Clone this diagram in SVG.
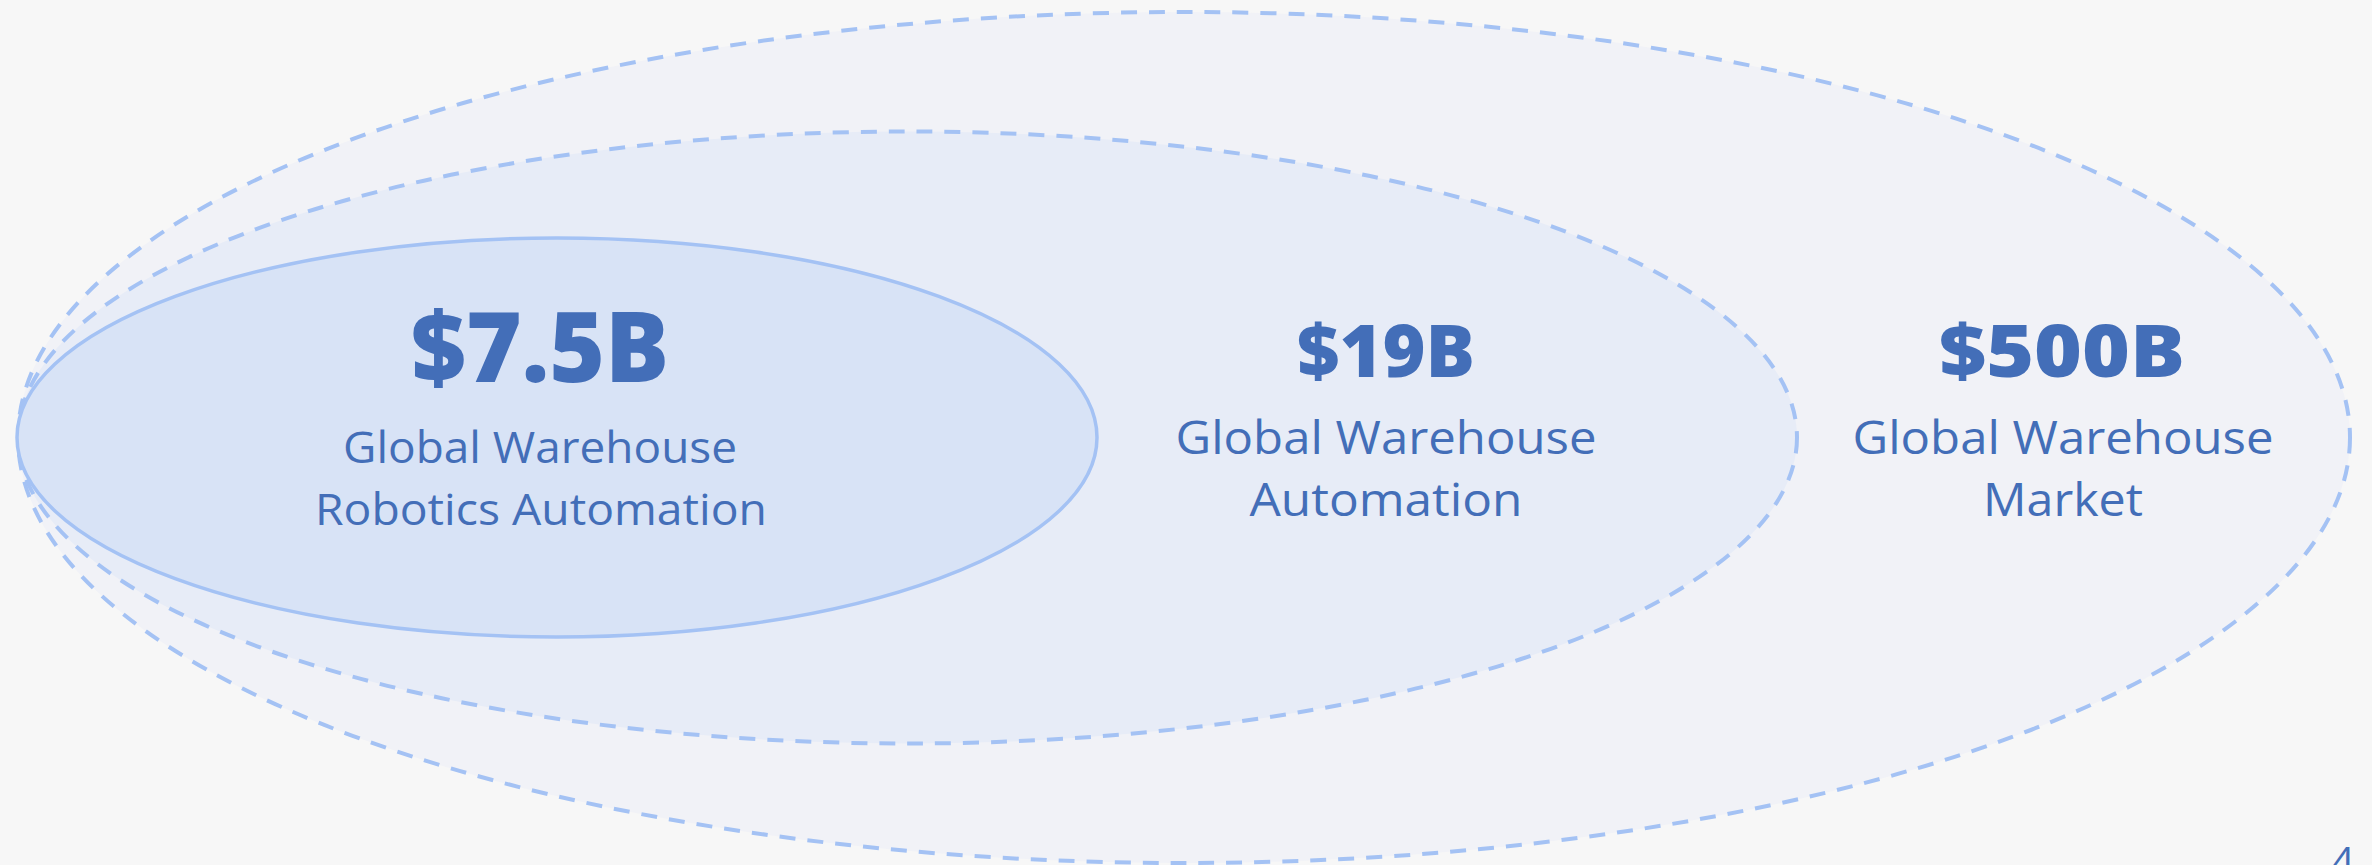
<svg xmlns="http://www.w3.org/2000/svg" width="2372" height="865" viewBox="0 0 2372 865">
<style>
.bg{fill:#f7f7f7}
.ring{stroke:#a4c2f4;stroke-width:3.5}
.dash{stroke-width:4;stroke-dasharray:16 12}
.big{font-family:"Open Sans","Liberation Sans",sans-serif;font-weight:800;fill:#436eb8;text-anchor:middle}
.sub{font-family:"Open Sans","Liberation Sans",sans-serif;font-weight:400;fill:#436eb8;text-anchor:middle}
</style>
<rect class="bg" x="0" y="0" width="2372" height="865"/>
<g id="market">
<ellipse class="ring dash" cx="1184" cy="437.5" rx="1166" ry="425.5" fill="#f1f2f7"/>
<text class="big" x="2062" y="377" font-size="73" textLength="246" lengthAdjust="spacingAndGlyphs">$500B</text>
<text class="sub" x="2063" y="454" font-size="45" textLength="421" lengthAdjust="spacingAndGlyphs">Global Warehouse</text>
<text class="sub" x="2063" y="516" font-size="45" textLength="160" lengthAdjust="spacingAndGlyphs">Market</text>
</g>
<g id="automation">
<ellipse class="ring dash" cx="907.5" cy="437.5" rx="889.5" ry="306" fill="#e7ecf7"/>
<text class="big" x="1386" y="377" font-size="73" textLength="178" lengthAdjust="spacingAndGlyphs">$19B</text>
<text class="sub" x="1386" y="454" font-size="45" textLength="421" lengthAdjust="spacingAndGlyphs">Global Warehouse</text>
<text class="sub" x="1386" y="516" font-size="45" textLength="273" lengthAdjust="spacingAndGlyphs">Automation</text>
</g>
<g id="robotics">
<ellipse class="ring" cx="557" cy="437.5" rx="540" ry="199.5" fill="#d8e3f6"/>
<text class="big" x="540" y="382" font-size="98" textLength="258" lengthAdjust="spacingAndGlyphs">$7.5B</text>
<text class="sub" x="540" y="463" font-size="43" textLength="394" lengthAdjust="spacingAndGlyphs">Global Warehouse</text>
<text class="sub" x="541" y="525" font-size="43" textLength="452" lengthAdjust="spacingAndGlyphs">Robotics Automation</text>
</g>
<g id="connectors"></g>
<g id="page-number">
<text class="sub" x="2343" y="876" font-size="40">4</text>
</g>
</svg>
